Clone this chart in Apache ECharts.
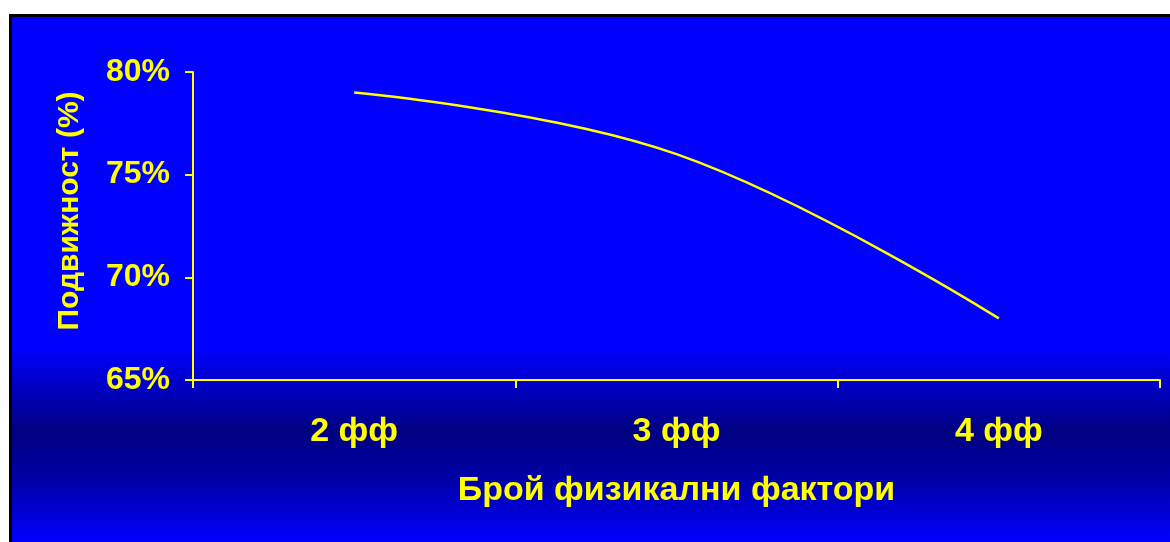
<!DOCTYPE html>
<html>
<head>
<meta charset="utf-8">
<script src="https://cdn.jsdelivr.net/npm/echarts@6/dist/echarts.min.js"></script>
<style>
  html, body { margin: 0; padding: 0; background: #ffffff; }
  #frame {
    position: absolute; left: 9px; top: 14px; width: 1161px; height: 528px;
    box-sizing: border-box; border-left: 3px solid #000; border-top: 3px solid #000;
    background: linear-gradient(to bottom, #0000ff 0%, #0000ff 63%, #000080 79%, #0000a8 88%, #0000f0 98%, #0000ff 100%);
  }
  #chart { position: absolute; left: 0; top: 0; width: 1170px; height: 542px; }
</style>
</head>
<body>
<div id="frame"></div>
<div id="chart"></div>
<script>
const categories = ['2 фф', '3 фф', '4 фф'];
const mobility = [79, 76, 68];
const yTicks = { min: 65, max: 80, interval: 5 };
const xTitle = 'Брой физикални фактори';
const yTitle = 'Подвижност (%)';

const YELLOW = '#ffff00';
const FONT = '"Liberation Sans", Arial, sans-serif';

const chart = echarts.init(document.getElementById('chart'), null, { renderer: 'canvas' });
chart.setOption({
  backgroundColor: 'transparent',
  animation: false,
  grid: { left: 193, top: 72, right: 10, bottom: 162, containLabel: false },
  xAxis: {
    type: 'category',
    data: categories,
    boundaryGap: true,
    name: xTitle,
    nameLocation: 'middle',
    nameGap: 94,
    nameTextStyle: { color: YELLOW, fontFamily: FONT, fontWeight: 'bold', fontSize: 34 },
    axisLine: { lineStyle: { color: YELLOW, width: 2 } },
    axisTick: { show: true, length: 8, lineStyle: { color: YELLOW, width: 2 } },
    axisLabel: { color: YELLOW, fontFamily: FONT, fontWeight: 'bold', fontSize: 34, margin: 35 },
    splitLine: { show: false }
  },
  yAxis: {
    type: 'value',
    min: yTicks.min, max: yTicks.max, interval: yTicks.interval,
    axisLine: { show: true, lineStyle: { color: YELLOW, width: 2 } },
    axisTick: { show: true, length: 8, lineStyle: { color: YELLOW, width: 2 } },
    axisLabel: { color: YELLOW, fontFamily: FONT, fontWeight: 'bold', fontSize: 32, margin: 23, formatter: '{value}%' },
    splitLine: { show: false }
  },
  graphic: [{
    type: 'text',
    x: 70, y: 211,
    rotation: Math.PI / 2,
    style: {
      text: yTitle, fill: YELLOW, font: 'bold 30px "Liberation Sans", Arial, sans-serif',
      align: 'center', verticalAlign: 'middle'
    }
  }],
  series: [{
    type: 'line',
    data: mobility,
    smooth: 0.4,
    symbol: 'none',
    lineStyle: { color: YELLOW, width: 2.5 }
  }]
});
</script>
</body>
</html>
